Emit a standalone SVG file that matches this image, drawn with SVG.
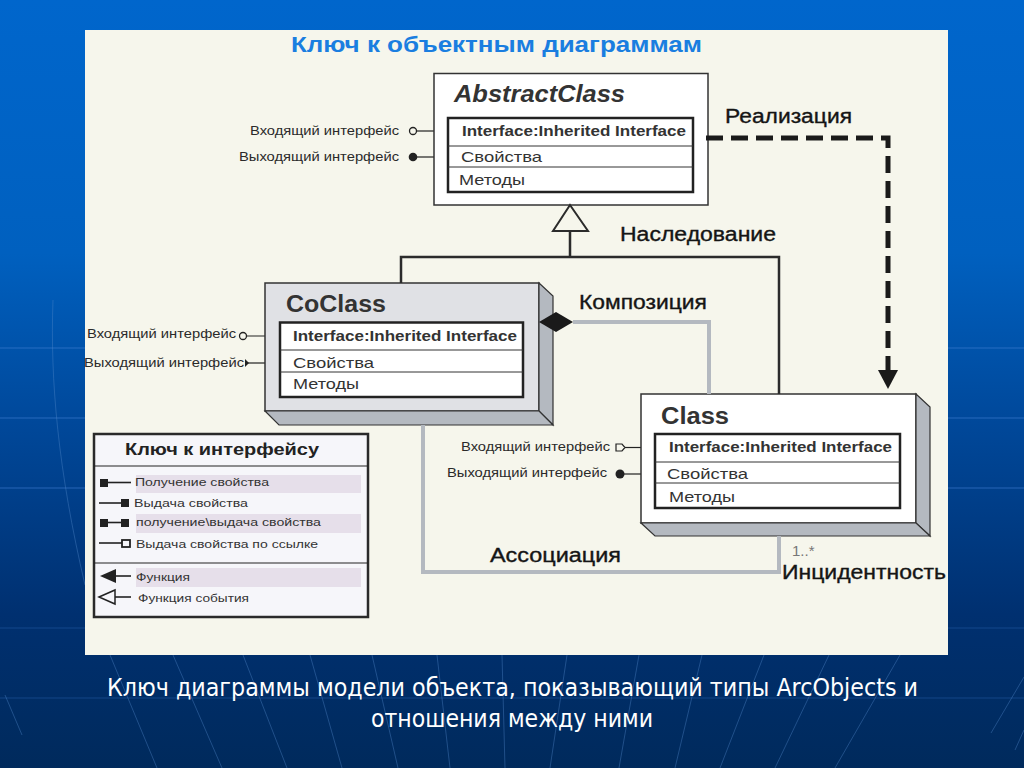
<svg xmlns="http://www.w3.org/2000/svg" width="1024" height="768" viewBox="0 0 1024 768">
<style>
.s{font-family:"Liberation Sans",Arial,sans-serif}
.box{fill:#fff;stroke:#333;stroke-width:1.5}
.bar{fill:#fff;stroke:#222;stroke-width:2.5}
.div{stroke:#333;stroke-width:1}
.side{fill:#b4b9c0;stroke:#333;stroke-width:1.2}
.name{font:bold 23px "Liberation Sans",Arial,sans-serif;fill:#333}
.hdr{font:bold 14px "Liberation Sans",Arial,sans-serif;fill:#333}
.mem{font:15px "Liberation Sans",Arial,sans-serif;fill:#333}
.ifc{font:12px "Liberation Sans",Arial,sans-serif;fill:#2a2a2a}
.lab{font:20px "Liberation Sans",Arial,sans-serif;fill:#151515;stroke:#151515;stroke-width:.35}
.key{font:11.5px "Liberation Sans",Arial,sans-serif;fill:#333}
.t{stroke:#222;stroke-width:1.2;fill:none}
.k{stroke:#222;stroke-width:1.6;fill:none}
.band{fill:#e6dfea}
.fan{stroke:#4f86c8;stroke-width:1;fill:none;opacity:.4}
.hz{fill:none;stroke:#3f7fd6}
</style>
<defs>
<linearGradient id="bg" x1="0" y1="0" x2="0" y2="1">
<stop offset="0" stop-color="#0066cc"/>
<stop offset=".33" stop-color="#0060bf"/>
<stop offset=".55" stop-color="#00489a"/>
<stop offset=".8" stop-color="#003070"/>
<stop offset="1" stop-color="#002a5c"/>
</linearGradient>
</defs>
<rect id="background" width="1024" height="768" fill="url(#bg)"/>
<g id="background-lines">
<path class="hz" opacity=".6" stroke-width="1.2" d="M0 348H1024M0 418H1024M0 488H1024"/>
<path class="hz" opacity=".3" d="M0 628H1024M0 698H1024"/>
<path class="fan" d="M110 655L157 768M173 655L222 768M243 655L287 768M310 655L342 768M372 655L398 768M437 655L450 768M502 655L505 768M567 655L550 768M639 655L619 768M702 655L675 768M764 655L720 768M829 655L775 768M900 655L835 768M5 695L22 735M1024 677L991 733M1024 730L1015 750"/>
<path class="fan" d="M53 300C50 380 58 470 85 585"/>
</g>
<rect id="panel" x="85" y="30" width="863" height="625" fill="#f6f6ec"/>
<text id="title" x="291" y="52" class="s" font-size="22" font-weight="bold" fill="#1a7ee0" textLength="411" lengthAdjust="spacingAndGlyphs">Ключ к объектным диаграммам</text>

<g id="abstract-class">
<circle cx="413" cy="131" r="3.5" fill="#f6f6ec" stroke="#222" stroke-width="1.3"/>
<path class="t" d="M417 131H448"/>
<circle cx="413" cy="157" r="4.300" fill="#222"/>
<path class="t" d="M417 157H434"/>
<rect class="box" x="434" y="73.500" width="274" height="131.500"/>
<text x="454" y="102" class="s" font-size="23" font-weight="bold" font-style="italic" fill="#333" textLength="171" lengthAdjust="spacingAndGlyphs">AbstractClass</text>
<rect class="bar" x="448" y="118" width="245" height="74"/>
<path class="div" d="M448 146H693M448 167H693"/>
<text x="462" y="136" class="hdr" textLength="224" lengthAdjust="spacingAndGlyphs">Interface:Inherited Interface</text>
<text x="461" y="162" class="mem" textLength="81" lengthAdjust="spacingAndGlyphs">Свойства</text>
<text x="459" y="185" class="mem" textLength="66" lengthAdjust="spacingAndGlyphs">Методы</text>
<text x="250" y="135" class="ifc" textLength="149" lengthAdjust="spacingAndGlyphs">Входящий интерфейс</text>
<text x="239" y="161" class="ifc" textLength="160" lengthAdjust="spacingAndGlyphs">Выходящий интерфейс</text>
</g>

<g id="coclass">
<circle cx="243" cy="336" r="3.5" fill="#f6f6ec" stroke="#222" stroke-width="1.3"/>
<path class="t" d="M247 336H280"/>
<path d="M245 359L249 363L245 367Z" fill="#222"/>
<path class="t" d="M248 363H265"/>
<rect x="265" y="283" width="274" height="128" fill="#e0e1e5" stroke="#333" stroke-width="1.5"/>
<polygon class="side" points="539,283 553,296 553,425 539,411"/>
<polygon class="side" points="265,411 539,411 553,425 279,425"/>
<text x="286" y="312" class="name" textLength="100" lengthAdjust="spacingAndGlyphs">CoClass</text>
<rect class="bar" x="280" y="322.500" width="243" height="74.500"/>
<path class="div" d="M280 350H523M280 372H523"/>
<text x="293" y="341" class="hdr" textLength="224" lengthAdjust="spacingAndGlyphs">Interface:Inherited Interface</text>
<text x="293" y="368" class="mem" textLength="81" lengthAdjust="spacingAndGlyphs">Свойства</text>
<text x="293" y="389" class="mem" textLength="66" lengthAdjust="spacingAndGlyphs">Методы</text>
<text x="87" y="338" class="ifc" textLength="149" lengthAdjust="spacingAndGlyphs">Входящий интерфейс</text>
<text x="84" y="367" class="ifc" textLength="160" lengthAdjust="spacingAndGlyphs">Выходящий интерфейс</text>
</g>

<g id="class">
<path d="M616 444H622L625 447.500L622 451H616Z" fill="#f6f6ec" stroke="#222" stroke-width="1.2"/>
<path class="t" d="M625 447.500H655"/>
<circle cx="620" cy="474" r="4.500" fill="#222"/>
<path class="t" d="M624 474H641"/>
<rect class="box" x="641" y="394" width="275" height="129"/>
<polygon class="side" points="916,394 930,407 930,536 916,523"/>
<polygon class="side" points="641,523 916,523 930,536 655,536"/>
<text x="661" y="424" class="name" textLength="68" lengthAdjust="spacingAndGlyphs">Class</text>
<rect class="bar" x="655" y="434" width="245" height="74"/>
<path class="div" d="M655 462H900M655 483H900"/>
<text x="669" y="452" class="hdr" textLength="223" lengthAdjust="spacingAndGlyphs">Interface:Inherited Interface</text>
<text x="667" y="479" class="mem" textLength="81" lengthAdjust="spacingAndGlyphs">Свойства</text>
<text x="669" y="502" class="mem" textLength="66" lengthAdjust="spacingAndGlyphs">Методы</text>
<text x="461" y="451" class="ifc" textLength="149" lengthAdjust="spacingAndGlyphs">Входящий интерфейс</text>
<text x="447" y="477" class="ifc" textLength="160" lengthAdjust="spacingAndGlyphs">Выходящий интерфейс</text>
</g>

<g id="connectors">
<path d="M423 425V572H779V536" fill="none" stroke="#b4b9c0" stroke-width="4"/>
<path d="M570 231V257M401 283V257H779V394" fill="none" stroke="#2b2b2b" stroke-width="2.500"/>
<path d="M573 322H709V394" fill="none" stroke="#b4b9c0" stroke-width="4"/>
<path d="M706 138H888V372" fill="none" stroke="#1a1a1a" stroke-width="5" stroke-dasharray="17 8"/>
<polygon points="878,370 898,370 888,389" fill="#1a1a1a"/>
<polygon points="570,205 588,231 553,231" fill="#f6f6ec" stroke="#2b2b2b" stroke-width="2"/>
<polygon points="539,322 556,312 573,322 556,332" fill="#1a1a1a"/>
</g>

<g id="labels">
<text x="725" y="123" class="lab" textLength="127" lengthAdjust="spacingAndGlyphs">Реализация</text>
<text x="620" y="241" class="lab" textLength="156" lengthAdjust="spacingAndGlyphs">Наследование</text>
<text x="579" y="309" class="lab" textLength="128" lengthAdjust="spacingAndGlyphs">Композиция</text>
<text x="490" y="562" class="lab" textLength="131" lengthAdjust="spacingAndGlyphs">Ассоциация</text>
<text x="782" y="579" class="lab" textLength="164" lengthAdjust="spacingAndGlyphs">Инцидентность</text>
<text x="792" y="556" class="s" font-size="15" fill="#777">1..*</text>
</g>

<g id="interface-key">
<rect x="94" y="434" width="274" height="183" fill="#f6f6fa" stroke="#2a2a2a" stroke-width="2.500"/>
<path d="M94 466H368M94 563H368" fill="none" stroke="#222" stroke-width="1.200"/>
<rect class="band" x="136" y="475" width="225" height="18"/>
<rect class="band" x="136" y="514" width="225" height="19"/>
<rect class="band" x="136" y="568" width="225" height="19"/>
<text x="125" y="455" class="s" font-size="17" font-weight="bold" fill="#222" textLength="194" lengthAdjust="spacingAndGlyphs">Ключ к интерфейсу</text>
<rect x="100" y="479" width="8" height="8" fill="#222"/><path class="k" d="M108 482.500H131"/>
<path class="k" d="M99 503H122"/><rect x="121" y="499" width="8" height="8" fill="#222"/>
<rect x="100" y="519" width="8" height="8" fill="#222"/><path class="k" d="M108 522.500H122"/><rect x="121" y="519" width="8" height="8" fill="#222"/>
<path class="k" d="M99 543H122"/><rect x="122" y="540" width="8" height="7" fill="#f6f6fa" stroke="#222" stroke-width="1.800"/>
<polygon points="100,576 116,569 116,583" fill="#222"/><path class="k" d="M116 576H131"/>
<polygon points="99,597 115,590 115,604" fill="#f6f6fa" stroke="#222" stroke-width="1.500"/><path class="k" d="M115 597H131"/>
<text x="135" y="486" class="key" textLength="134" lengthAdjust="spacingAndGlyphs">Получение свойства</text>
<text x="134" y="507" class="key" textLength="114" lengthAdjust="spacingAndGlyphs">Выдача свойства</text>
<text x="136" y="526" class="key" textLength="185" lengthAdjust="spacingAndGlyphs">получение\выдача свойства</text>
<text x="136" y="548" class="key" textLength="182" lengthAdjust="spacingAndGlyphs">Выдача свойства по ссылке</text>
<text x="136" y="581" class="key" textLength="54" lengthAdjust="spacingAndGlyphs">Функция</text>
<text x="138" y="602" class="key" textLength="111" lengthAdjust="spacingAndGlyphs">Функция события</text>
</g>

<g id="caption">
<text x="107" y="696" font-family="'DejaVu Sans',sans-serif" font-size="24" fill="#fff" textLength="811" lengthAdjust="spacingAndGlyphs">Ключ диаграммы модели объекта, показывающий типы ArcObjects и</text>
<text x="371" y="727" font-family="'DejaVu Sans',sans-serif" font-size="24" fill="#fff" textLength="282" lengthAdjust="spacingAndGlyphs">отношения между ними</text>
</g>
</svg>
